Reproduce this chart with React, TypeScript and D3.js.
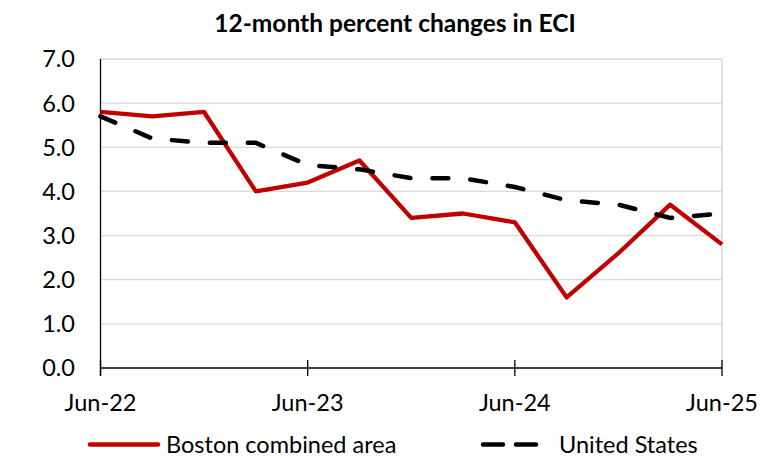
import * as d3 from "d3";
import React from "react";

const quarters = [
  "Jun-22", "Sep-22", "Dec-22", "Mar-23", "Jun-23", "Sep-23", "Dec-23",
  "Mar-24", "Jun-24", "Sep-24", "Dec-24", "Mar-25", "Jun-25",
];
const boston = [5.8, 5.7, 5.8, 4.0, 4.2, 4.7, 3.4, 3.5, 3.3, 1.6, 2.6, 3.7, 2.8];
const unitedStates = [5.7, 5.2, 5.1, 5.1, 4.6, 4.5, 4.3, 4.3, 4.1, 3.8, 3.7, 3.4, 3.5];
const yTicks = [0, 1, 2, 3, 4, 5, 6, 7];
const xTickLabels = ["Jun-22", "Jun-23", "Jun-24", "Jun-25"];

const width = 766;
const height = 458;
const font = "Lato, 'Open Sans', sans-serif";
const labelSize = 23.5;

export default function App() {
  const left = 100.5;
  const right = 722;
  const top = 59;
  const bottom = 368;
  const legendY = 444.5;

  const x = d3.scalePoint<string>().domain(quarters).range([left, right]);
  const y = d3.scaleLinear().domain([0, 7]).range([bottom, top]);

  const line = d3
    .line<number>()
    .x((_, i) => x(quarters[i]) as number)
    .y((d) => y(d));

  return (
    <svg
      width={width}
      height={height}
      style={{ position: "absolute", left: 0, top: 0, background: "#fff" }}
      fontFamily={font}
    >
      <text x={395} y={32} textAnchor="middle" fontSize={24.5} fontWeight="bold" fill="#000">
        12-month percent changes in ECI
      </text>

      {/* gridlines */}
      {yTicks.filter((t) => t > 0).map((t) => (
        <line key={t} x1={left} x2={right} y1={y(t)} y2={y(t)} stroke="#d9d9d9" strokeWidth={1.3} />
      ))}
      <line x1={right} x2={right} y1={top} y2={bottom} stroke="#d0d0d0" strokeWidth={1.3} />

      {/* y axis */}
      <line x1={left} x2={left} y1={top} y2={bottom + 8} stroke="#000" strokeWidth={1.3} />
      {yTicks.map((t) => (
        <text key={t} x={75} y={y(t)} dy="0.36em" textAnchor="end" fontSize={labelSize} fill="#000">
          {t.toFixed(1)}
        </text>
      ))}

      {/* x axis */}
      <line x1={left} x2={right} y1={bottom} y2={bottom} stroke="#000" strokeWidth={1.3} />
      {xTickLabels.map((q) => (
        <g key={q}>
          <line x1={x(q)} x2={x(q)} y1={bottom - 8} y2={bottom + 8} stroke="#000" strokeWidth={1.3} />
          <text x={x(q)} y={bottom + 43} textAnchor="middle" fontSize={labelSize} fill="#000">
            {q}
          </text>
        </g>
      ))}

      {/* series */}
      <path d={line(boston) ?? ""} fill="none" stroke="#C00000" strokeWidth={4.3} strokeLinejoin="round" />
      <path
        d={line(unitedStates) ?? ""}
        fill="none"
        stroke="#000"
        strokeWidth={4.5}
        strokeDasharray="16 22"
        strokeLinecap="round"
      />

      {/* legend */}
      <line x1={90} x2={158} y1={legendY} y2={legendY} stroke="#C00000" strokeWidth={4.5} strokeLinecap="round" />
      <text x={166} y={legendY} dy="0.36em" fontSize={labelSize} fill="#000">
        Boston combined area
      </text>
      <line
        x1={483}
        x2={538}
        y1={legendY}
        y2={legendY}
        stroke="#000"
        strokeWidth={4.5}
        strokeDasharray="20 13"
        strokeLinecap="round"
      />
      <text x={559} y={legendY} dy="0.36em" fontSize={labelSize} fill="#000">
        United States
      </text>
    </svg>
  );
}
